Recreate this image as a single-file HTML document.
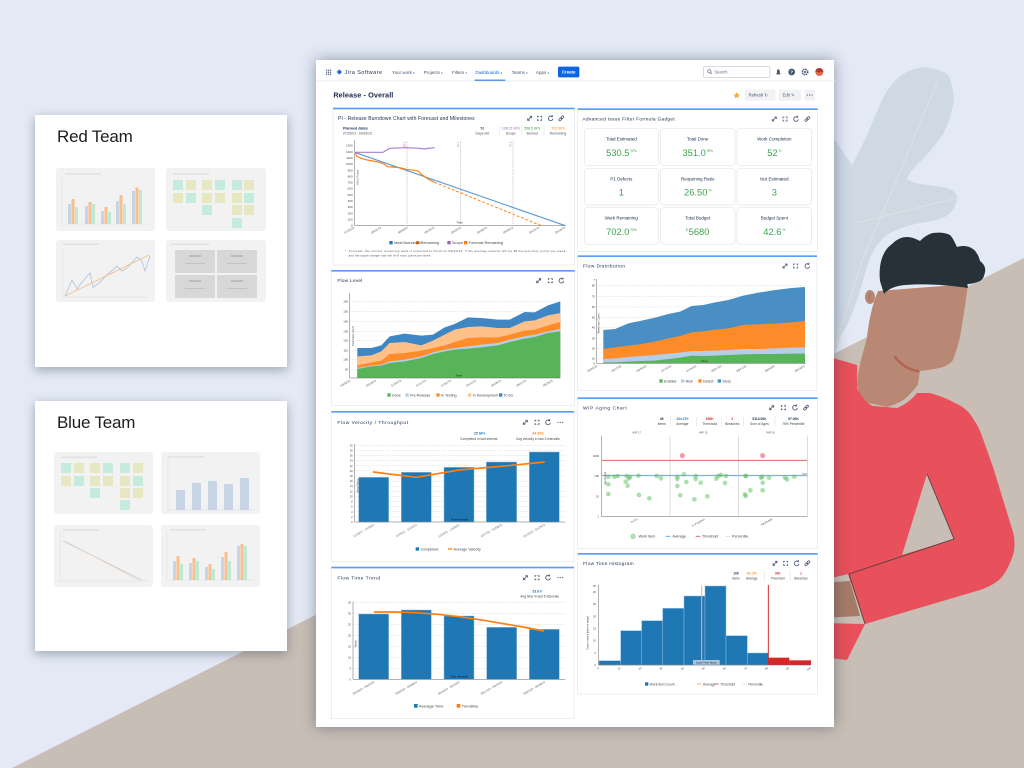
<!DOCTYPE html>
<html><head><meta charset="utf-8"><style>
*{margin:0;padding:0;box-sizing:border-box}
body{width:1024px;height:768px;overflow:hidden;position:relative;background:#e3eaf5;font-family:"Liberation Sans",sans-serif}
svg{position:absolute;overflow:visible}
svg text{font-family:"Liberation Sans","DejaVu Sans",sans-serif}
.card{position:absolute;background:#fff;box-shadow:0 3px 10px rgba(70,80,100,.45)}
.card h2{position:absolute;left:22px;font-weight:normal;font-size:17px;color:#1d1d1d;letter-spacing:-0.2px}
#dash{position:absolute;left:316px;top:60px;width:518px;height:667px;background:#fff;box-shadow:0 0 14px rgba(40,50,70,.45)}
</style></head><body>

<!-- background illustration -->
<svg style="left:0;top:0" width="1024" height="768" viewBox="0 0 1024 768">
<polygon points="0,774 1024,258 1024,768 0,768" fill="#c8beb5"/>
<path d="M820,150 L835,140 L852,165 C860,150 866,138 870,128 C878,110 882,98 887,91 C895,80 900,75 907,72 C915,68 925,66 930,68 C942,70 950,74 950,79 C954,92 955,100 952,110 C948,125 944,135 937,142 C930,152 922,160 917,165 C912,170 908,175 907,179 C912,182 915,183 920,184 C932,186 942,186 950,189 C957,193 958,196 957,200 C955,208 952,212 947,216 C938,220 930,222 920,223 C905,226 895,230 887,235 C878,243 873,250 870,258 C866,270 863,280 860,291 C856,303 853,312 850,319 C846,327 843,333 840,337 L833,360 L820,360 Z" fill="#cfd9e4"/>
<path d="M836,344 L863,258 L903,165 L937,82 M857,223 L957,198" stroke="#e2e2e0" stroke-width="0.9" fill="none"/>
<!-- face -->
<path d="M878,291 C872,305 869,320 867,337 C864,350 861,358 860,365 C858,372 857,380 857,386 C860,395 862,400 865,402 L887,407 C897,404 903,401 907,397 C912,392 916,388 918,384 L920,371 C928,370 936,369 943,367 C948,365 951,363 953,360 C956,352 958,345 960,337 C963,320 966,300 968,284 Z" fill="#b98875"/>
<ellipse cx="870" cy="297" rx="5" ry="7" fill="#b98875"/>
<path d="M871,293 C868,295 868,299 871,301" stroke="#9a6a58" stroke-width="0.8" fill="none"/>
<path d="M880,281 C879,272 880,264 882,258 C885,250 888,247 892,244 C897,239 902,237 907,237 C912,237 916,239 920,241 C925,236 929,234 933,233 C940,232 946,233 950,235 C953,238 955,243 957,247 C963,245 969,246 973,249 C977,252 979,257 980,261 C984,264 986,268 985,272 C984,277 983,279 980,281 C975,283 971,284 967,284 L968,288 C955,286 930,283 905,285 C895,286 888,289 884,294 Z" fill="#263238"/>
<path d="M895,357 C902,366 910,370 918,371" stroke="#b0654f" stroke-width="2.6" fill="none" stroke-linecap="round"/>
<!-- shirt -->
<path d="M820,356 L833,358 L857,365 L857,388 C862,398 868,404 873,406 L897,408 C907,404 913,398 917,393 L930,393 C940,396 948,399 953,402 C962,406 967,410 970,414 C977,424 980,430 983,439 L993,467 L1013,532 C1015,540 1015,548 1013,555 C1009,567 1004,575 1000,579 C993,585 986,588 980,590 L865,624 L848,574 L820,581 Z" fill="#e8505b"/>
<path d="M927,474 L954,539 L902,555 Z" fill="#c8beb5"/>
<path d="M927,474 L954,539 L849,574 L865,624" stroke="#4a3f3f" stroke-width="0.8" fill="none"/>
<path d="M820,583 L850,581 L860,616 L820,618 Z" fill="#a57b67"/>
<path d="M820,623 L865,624 L847,660 L820,657 Z" fill="#e8505b"/>
</svg>

<!-- left cards -->
<div class="card" style="left:35px;top:115px;width:252px;height:252px"><h2 style="top:12px">Red Team</h2></div>
<div class="card" style="left:35px;top:401px;width:252px;height:250px"><h2 style="top:12px">Blue Team</h2></div>
<svg style="left:0;top:0" width="1024" height="768" viewBox="0 0 1024 768">
<g fill="#f2f2f2"><rect x="56" y="168" width="99" height="63" rx="3"/><rect x="166" y="168" width="100" height="63" rx="3"/><rect x="56" y="240" width="99" height="62" rx="3"/><rect x="166" y="240" width="100" height="62" rx="3"/>
<rect x="54" y="452" width="99" height="62" rx="3"/><rect x="161" y="452" width="99" height="62" rx="3"/><rect x="54" y="525" width="99" height="62" rx="3"/><rect x="161" y="525" width="99" height="62" rx="3"/></g>
<g fill="#e2e2e2"><rect x="65" y="173" width="36" height="1.6"/><rect x="173" y="173" width="36" height="1.6"/><rect x="63" y="243.5" width="36" height="1.6"/><rect x="171" y="243.5" width="38" height="1.6"/>
<rect x="61" y="456.5" width="36" height="1.6"/><rect x="168" y="456" width="36" height="1.6"/><rect x="63" y="529" width="36" height="1.6"/><rect x="170" y="529" width="36" height="1.6"/></g>
<g stroke="#e4e4e4" stroke-width="0.7" fill="none"><path d="M62,177 V224 H148"/><path d="M63,249 V297 H149"/><path d="M168,458 V510 H255"/><path d="M60,531 V581 H148"/><path d="M167,531 V580 H254"/></g>
<!-- red TL bars -->
<g><g fill="#c6d4e4"><rect x="68" y="204" width="3" height="20"/><rect x="85" y="206" width="3" height="18"/><rect x="101" y="211" width="3" height="13"/><rect x="116" y="201" width="3" height="23"/><rect x="132" y="191" width="3" height="33"/></g>
<g fill="#f8bf8a"><rect x="71.5" y="199" width="3" height="25"/><rect x="88.5" y="202" width="3" height="22"/><rect x="104.5" y="207" width="3" height="17"/><rect x="119.5" y="195" width="3" height="29"/><rect x="135.5" y="187.5" width="3" height="36.5"/></g>
<g fill="#bde8d6"><rect x="75" y="207" width="3" height="17"/><rect x="92" y="204" width="3" height="20"/><rect x="108" y="212" width="3" height="12"/><rect x="123" y="204" width="3" height="20"/><rect x="139" y="190" width="3" height="34"/></g></g>
<!-- stickies -->
<g><g fill="#c4ebdc"><rect x="173" y="180" width="10" height="10"/><rect x="215" y="180" width="10" height="10"/><rect x="232" y="180" width="10" height="10"/><rect x="186" y="193" width="10" height="10"/><rect x="244" y="193" width="10" height="10"/><rect x="202" y="205" width="10" height="10"/><rect x="232" y="218" width="10" height="10"/>
<rect x="61" y="463" width="10" height="10"/><rect x="103" y="463" width="10" height="10"/><rect x="120" y="463" width="10" height="10"/><rect x="74" y="476" width="10" height="10"/><rect x="133" y="476" width="10" height="10"/><rect x="90" y="488" width="10" height="10"/><rect x="120" y="500" width="10" height="10"/></g>
<g fill="#e6e8c2"><rect x="186" y="180" width="10" height="10"/><rect x="202" y="180" width="10" height="10"/><rect x="244" y="180" width="10" height="10"/><rect x="173" y="193" width="10" height="10"/><rect x="202" y="193" width="10" height="10"/><rect x="215" y="193" width="10" height="10"/><rect x="232" y="193" width="10" height="10"/><rect x="232" y="205" width="10" height="10"/><rect x="244" y="205" width="10" height="10"/>
<rect x="74" y="463" width="10" height="10"/><rect x="90" y="463" width="10" height="10"/><rect x="133" y="463" width="10" height="10"/><rect x="61" y="476" width="10" height="10"/><rect x="90" y="476" width="10" height="10"/><rect x="103" y="476" width="10" height="10"/><rect x="120" y="476" width="10" height="10"/><rect x="120" y="488" width="10" height="10"/><rect x="133" y="488" width="10" height="10"/></g></g>
<!-- red BL line -->
<polyline points="65,296 72,280 77,289 82,282 90,273 93,287.5 100,282 107,275 117,266 122,271 127,268 137,257 142,261 145,271 150,256" fill="none" stroke="#b9c7da" stroke-width="0.9"/>
<line x1="65" y1="296" x2="149" y2="255" stroke="#f6bd85" stroke-width="0.9"/>
<!-- red BR boxes -->
<g fill="#d7d7d7"><rect x="175" y="250" width="40" height="23" rx="1"/><rect x="217" y="250" width="40" height="23" rx="1"/><rect x="175" y="275" width="40" height="23" rx="1"/><rect x="217" y="275" width="40" height="23" rx="1"/></g>
<g fill="#bdbdbd"><rect x="189" y="255" width="12" height="2"/><rect x="231" y="255" width="12" height="2"/><rect x="189" y="280" width="12" height="2"/><rect x="231" y="280" width="12" height="2"/><rect x="185" y="263" width="20" height="0.8"/><rect x="227" y="263" width="20" height="0.8"/><rect x="185" y="288" width="20" height="0.8"/><rect x="227" y="288" width="20" height="0.8"/></g>
<!-- blue TR bars -->
<g fill="#c7d5e4"><rect x="176" y="490" width="9" height="20"/><rect x="192" y="483" width="9" height="27"/><rect x="208" y="481" width="9" height="29"/><rect x="224" y="484" width="9" height="26"/><rect x="240" y="478" width="9" height="32"/></g>
<!-- blue BL -->
<line x1="63" y1="541" x2="142" y2="580" stroke="#c3cfe0" stroke-width="0.9"/><line x1="65" y1="541" x2="140" y2="581" stroke="#f3cfa8" stroke-width="0.7"/>
<!-- blue BR -->
<g fill="#c6d4e4"><rect x="173" y="561" width="3" height="19"/><rect x="189" y="563" width="3" height="17"/><rect x="205" y="567" width="3" height="13"/><rect x="221" y="557" width="3" height="23"/><rect x="237" y="546" width="3" height="34"/></g>
<g fill="#f8bf8a"><rect x="176.5" y="556" width="3" height="24"/><rect x="192.5" y="558" width="3" height="22"/><rect x="208.5" y="564" width="3" height="16"/><rect x="224.5" y="552" width="3" height="28"/><rect x="240.5" y="544" width="3" height="36"/></g>
<g fill="#bde8d6"><rect x="180" y="564" width="3" height="16"/><rect x="196" y="561" width="3" height="19"/><rect x="212" y="569" width="3" height="11"/><rect x="228" y="561" width="3" height="19"/><rect x="244" y="546" width="3" height="34"/></g>
</svg>

<div id="dash"></div>

<!-- defs + nav -->
<svg style="left:316px;top:60px" width="520" height="210" viewBox="0 0 1560 630">
<defs>
<g id="ie" fill="none" stroke="#505f79" stroke-width="2.6"><path d="M-6,6 L6,-6 M0,-6 H6 V0 M-6,0 V6 H0"/></g>
<g id="if" fill="none" stroke="#505f79" stroke-width="2.6"><path d="M-6,-2V-6H-2M2,-6H6V-2M6,2V6H2M-2,6H-6V2"/></g>
<g id="ir" fill="none" stroke="#505f79" stroke-width="2.6"><path d="M5,-5 A7,7 0 1 0 7,1 M5,-10 V-5 H0"/></g>
<g id="il" fill="none" stroke="#505f79" stroke-width="2.4"><g transform="rotate(-45)"><rect x="-9" y="-3" width="10" height="6" rx="3"/><rect x="-1" y="-3" width="10" height="6" rx="3"/></g></g>
<g id="im" fill="#505f79"><circle cx="-7" r="1.9"/><circle r="1.9"/><circle cx="7" r="1.9"/></g>
</defs>
<g fill="#44546f"><rect x="30" y="29" width="3.5" height="3.5"/><rect x="36" y="29" width="3.5" height="3.5"/><rect x="42" y="29" width="3.5" height="3.5"/><rect x="30" y="35" width="3.5" height="3.5"/><rect x="36" y="35" width="3.5" height="3.5"/><rect x="42" y="35" width="3.5" height="3.5"/><rect x="30" y="41" width="3.5" height="3.5"/><rect x="36" y="41" width="3.5" height="3.5"/><rect x="42" y="41" width="3.5" height="3.5"/></g>
<path d="M70,28 L78,36 L70,44 L62,36 Z" fill="#1868db"/>
<text x="86" y="42" font-size="17" fill="#253858" textLength="112">Jira Software</text>
<g font-size="13.5" fill="#44546f">
<text x="228" y="42">Your work <tspan font-size="9">▾</tspan></text>
<text x="323" y="42">Projects <tspan font-size="9">▾</tspan></text>
<text x="408" y="42">Filters <tspan font-size="9">▾</tspan></text>
<text x="478" y="42" fill="#0c66e4">Dashboards <tspan font-size="9">▾</tspan></text>
<text x="587" y="42">Teams <tspan font-size="9">▾</tspan></text>
<text x="660" y="42">Apps <tspan font-size="9">▾</tspan></text></g>
<rect x="476" y="59" width="92" height="4" fill="#0c66e4"/>
<rect x="726" y="20" width="64" height="32" rx="4" fill="#0c66e4"/>
<text x="758" y="41" font-size="13" fill="#fff" text-anchor="middle" font-weight="bold">Create</text>
<rect x="1162" y="20" width="200" height="32" rx="4" fill="#fff" stroke="#c1c7d0" stroke-width="2"/>
<circle cx="1180" cy="34" r="5" fill="none" stroke="#626f86" stroke-width="2"/><line x1="1184" y1="38" x2="1188" y2="42" stroke="#626f86" stroke-width="2"/>
<text x="1195" y="40" font-size="12.5" fill="#626f86">Search</text>
<path d="M1380,43 L1394,43 L1391,38 L1391,32 C1391,27 1383,27 1383,32 L1383,38 Z" fill="#44546f"/>
<circle cx="1427" cy="36" r="10" fill="#44546f"/><text x="1427" y="41" font-size="14" font-weight="bold" fill="#fff" text-anchor="middle">?</text>
<circle cx="1467" cy="36" r="8" fill="none" stroke="#44546f" stroke-width="5" stroke-dasharray="4,2.3"/><circle cx="1467" cy="36" r="3" fill="#44546f"/>
<circle cx="1510" cy="36" r="12" fill="#e8694a"/><path d="M1498,36 A12,12 0 0 1 1522,36 Z" fill="#c0392b"/><circle cx="1510" cy="33" r="5" fill="#8b4a3c"/>
<line x1="0" y1="63" x2="1560" y2="63" stroke="#e4e6ea" stroke-width="2"/>
<text x="52" y="113" font-size="22" fill="#172b4d" font-weight="bold" textLength="180">Release - Overall</text>
<path d="M1262,96 L1265,103 L1272,103 L1266.5,108 L1268.5,115 L1262,111 L1255.5,115 L1257.5,108 L1252,103 L1259,103 Z" fill="#f5a623"/>
<rect x="1287" y="88" width="91" height="34" rx="3" fill="#f1f2f4"/><text x="1298" y="110" font-size="12.5" fill="#44546f">Refresh ↻</text>
<rect x="1388" y="88" width="67" height="34" rx="3" fill="#f1f2f4"/><text x="1400" y="110" font-size="12.5" fill="#44546f">Edit ✎</text>
<rect x="1465" y="88" width="32" height="34" rx="3" fill="#f1f2f4"/><use href="#im" transform="translate(1481,105)"/>
</svg>

<!-- Burndown -->
<svg style="left:328px;top:105px" width="250" height="165" viewBox="0 0 750 495">
<rect x="15" y="10" width="725" height="470" fill="#fff" stroke="#e4e6ea" stroke-width="2"/>
<rect x="15" y="8" width="725" height="5" fill="#5b9ef6"/>
<text x="30" y="45" font-size="15" fill="#172b4d" textLength="410">PI - Release Burndown Chart with Forecast and Milestones</text>
<use href="#ie" transform="translate(605,40)"/><use href="#if" transform="translate(635,40)"/><use href="#ir" transform="translate(668,40)"/><use href="#il" transform="translate(700,40)"/>
<text x="45" y="73" font-size="11" font-weight="bold" fill="#172b4d">Planned dates</text>
<text x="45" y="88" font-size="10" fill="#555">07/25/23 - 09/26/23</text>
<g font-size="10.5" text-anchor="middle"><text x="463" y="73" fill="#172b4d">56</text><text x="463" y="88" fill="#555">Days left</text>
<text x="548" y="73" fill="#9467bd">1240.5 SPs</text><text x="548" y="88" fill="#555">Scope</text>
<text x="613" y="73" fill="#2ca02c">558.5 SPs</text><text x="613" y="88" fill="#555">Burned</text>
<text x="690" y="73" fill="#ff7f0e">702 SPs</text><text x="690" y="88" fill="#555">Remaining</text></g>
<g stroke="#ddd" stroke-width="1.5"><line x1="515" y1="62" x2="515" y2="92"/><line x1="580" y1="62" x2="580" y2="92"/><line x1="648" y1="62" x2="648" y2="92"/></g>
<g font-size="9" fill="#444" text-anchor="end"><text x="74" y="365">0</text><text x="74" y="346.5">100</text><text x="74" y="328">200</text><text x="74" y="309.6">300</text><text x="74" y="291.2">400</text><text x="74" y="272.7">500</text><text x="74" y="254.2">600</text><text x="74" y="235.8">700</text><text x="74" y="217.3">800</text><text x="74" y="198.9">900</text><text x="74" y="180.4">1000</text><text x="74" y="161.9">1100</text><text x="74" y="143.5">1200</text><text x="74" y="125">1300</text></g>
<path d="M80,105 V362 H712" stroke="#666" stroke-width="1.5" fill="none"/>
<g stroke="#999" stroke-width="1.5" stroke-dasharray="4,3"><line x1="237" y1="108" x2="237" y2="362"/><line x1="397" y1="108" x2="397" y2="362"/><line x1="555" y1="108" x2="555" y2="362"/></g>
<g font-size="8"><text transform="translate(233,125) rotate(-90)" fill="#d62728">PI 1</text><text transform="translate(393,125) rotate(-90)" fill="#888">PI 2</text><text transform="translate(551,125) rotate(-90)" fill="#888">PI 3</text></g>
<polyline points="80,142 712,362" fill="none" stroke="#5b9bd5" stroke-width="3.5"/>
<polyline points="80,142 165,142 185,130 235,128 275,130 290,132 300,130 320,128" fill="none" stroke="#a77fd1" stroke-width="3.5"/>
<line x1="320" y1="232" x2="640" y2="362" stroke="#ff7f0e" stroke-width="3" stroke-dasharray="8,6"/>
<polyline points="80,142 88,155 100,160 118,165 135,168 155,172 170,178 178,185 195,186 215,188 235,193 258,196 270,198 283,210 300,222 320,232" fill="none" stroke="#ff7f0e" stroke-width="3.5"/>
<text x="395" y="356" font-size="9" fill="#333" text-anchor="middle">Time</text>
<text transform="translate(92,240) rotate(-90)" font-size="8.5" fill="#555">Story Points</text>
<g font-size="8.5" fill="#555" text-anchor="end"><text transform="translate(80,370) rotate(-30)">07/25/23</text><text transform="translate(160,370) rotate(-30)">08/01/23</text><text transform="translate(240,370) rotate(-30)">08/08/23</text><text transform="translate(320,370) rotate(-30)">08/15/23</text><text transform="translate(400,370) rotate(-30)">08/22/23</text><text transform="translate(478,370) rotate(-30)">08/29/23</text><text transform="translate(556,370) rotate(-30)">09/05/23</text><text transform="translate(634,370) rotate(-30)">09/12/23</text><text transform="translate(712,370) rotate(-30)">09/19/23</text></g>
<rect x="184" y="408" width="10" height="10" fill="#1f77b4"/><rect x="264" y="408" width="10" height="10" fill="#ff7f0e"/><rect x="358" y="408" width="10" height="10" fill="#9467bd"/><rect x="408" y="408" width="10" height="10" fill="#ff7f0e"/>
<g font-size="11.5" fill="#444"><text x="198" y="417">Ideal Burndown</text><text x="278" y="417">Remaining</text><text x="372" y="417">Scope</text><text x="422" y="417">Forecast Remaining</text></g>
<text x="50" y="441" font-size="11" fill="#ff7f0e">*</text>
<text x="62" y="441" font-size="9" fill="#555" textLength="650">Forecast: the current remaining work is expected to finish on 09/22/23, if the average velocity will be 98 burned story points per week</text>
<text x="62" y="455" font-size="9" fill="#555" textLength="245">and the scope change rate will be 8 story points per week</text>
</svg>

<!-- Advanced gadget -->
<svg style="left:575px;top:100px" width="250" height="160" viewBox="0 0 750 480">
<rect x="8" y="27" width="720" height="428" fill="#fff" stroke="#e4e6ea" stroke-width="2"/>
<rect x="8" y="25" width="720" height="5" fill="#5b9ef6"/>
<text x="22" y="61" font-size="14.5" fill="#172b4d" textLength="277">Advanced Issue Filter Formula Gadget</text>
<use href="#ie" transform="translate(598,57)"/><use href="#if" transform="translate(630,57)"/><use href="#ir" transform="translate(663,57)"/><use href="#il" transform="translate(697,57)"/>
<g fill="#fff" stroke="#e2e4e8" stroke-width="2">
<rect x="28" y="85" width="222" height="112" rx="10"/><rect x="257" y="85" width="223" height="112" rx="10"/><rect x="486" y="85" width="224" height="112" rx="10"/>
<rect x="28" y="205" width="222" height="110" rx="10"/><rect x="257" y="205" width="223" height="110" rx="10"/><rect x="486" y="205" width="224" height="110" rx="10"/>
<rect x="28" y="323" width="222" height="110" rx="10"/><rect x="257" y="323" width="223" height="110" rx="10"/><rect x="486" y="323" width="224" height="110" rx="10"/></g>
<g font-size="13.5" fill="#172b4d" text-anchor="middle">
<text x="139" y="122">Total Estimated</text><text x="368" y="122">Total Done</text><text x="598" y="122">Work Completion</text>
<text x="139" y="241">P1 Defects</text><text x="368" y="241">Reopening Ratio</text><text x="598" y="241">Not Estimated</text>
<text x="139" y="359">Work Remaining</text><text x="368" y="359">Total Budget</text><text x="598" y="359">Budget Spent</text></g>
<g font-size="28" fill="#3ba34f" text-anchor="middle">
<text x="139" y="168">530.5<tspan font-size="10" dy="-12"> SPs</tspan></text>
<text x="368" y="168">351.0<tspan font-size="10" dy="-12"> SPs</tspan></text>
<text x="598" y="168">52<tspan font-size="10" dy="-12"> %</tspan></text>
<text x="139" y="287">1</text>
<text x="368" y="287">26.50<tspan font-size="10" dy="-12"> %</tspan></text>
<text x="598" y="287">3</text>
<text x="139" y="405">702.0<tspan font-size="10" dy="-12"> SPs</tspan></text>
<text x="368" y="405"><tspan font-size="10" dy="-12">$ </tspan><tspan dy="12">5680</tspan></text>
<text x="598" y="405">42.6<tspan font-size="10" dy="-12"> %</tspan></text></g>
</svg>

<!-- Flow Level -->
<svg style="left:328px;top:268px" width="250" height="145" viewBox="0 0 750 435">
<rect x="10" y="9" width="730" height="403" fill="#fff" stroke="#e4e6ea" stroke-width="2"/>
<rect x="10" y="6" width="730" height="5" fill="#5b9ef6"/>
<text x="28" y="42" font-size="14.5" fill="#172b4d" textLength="75">Flow Level</text>
<use href="#ie" transform="translate(632,38)"/><use href="#if" transform="translate(667,38)"/><use href="#ir" transform="translate(700,38)"/>
<g stroke="#ccc" stroke-width="1.2" stroke-dasharray="4,3"><line x1="65" y1="101" x2="697" y2="101"/><line x1="65" y1="130" x2="697" y2="130"/><line x1="65" y1="160" x2="697" y2="160"/><line x1="65" y1="190" x2="697" y2="190"/><line x1="65" y1="218" x2="697" y2="218"/><line x1="65" y1="247" x2="697" y2="247"/><line x1="65" y1="275" x2="697" y2="275"/><line x1="65" y1="304" x2="697" y2="304"/></g>
<g font-size="8.5" fill="#444" text-anchor="end"><text x="60" y="104">160</text><text x="60" y="133">150</text><text x="60" y="163">140</text><text x="60" y="193">130</text><text x="60" y="221">120</text><text x="60" y="250">110</text><text x="60" y="278">100</text><text x="60" y="307">90</text></g>
<polygon points="88,330 88,240 130,240 160,232 185,205 230,197 280,203 315,200 350,178 380,168 420,148 460,150 510,155 545,155 590,132 620,133 660,112 697,100 697,330" fill="#3f87c4"/>
<polygon points="88,330 88,265 130,262 160,250 185,225 230,222 280,232 315,218 350,200 380,185 420,177 460,175 510,180 545,180 590,160 620,157 660,142 697,135 697,330" fill="#ffc08a"/>
<polygon points="88,330 88,292 130,283 160,278 185,258 230,255 280,248 315,240 350,232 380,222 420,210 460,208 510,208 545,200 590,188 620,185 660,172 697,162 697,330" fill="#ff8c28"/>
<polygon points="88,330 88,300 130,293 160,290 185,280 230,275 280,265 315,253 350,245 380,240 420,235 460,230 510,225 545,215 590,205 620,200 660,190 697,183 697,330" fill="#b5cde8"/>
<polygon points="88,330 88,303 130,295 160,293 185,285 230,280 280,270 315,258 350,250 380,245 420,242 460,238 510,232 545,222 590,212 620,207 660,195 697,190 697,330" fill="#58b459"/>
<path d="M65,75 V330 H697" stroke="#666" stroke-width="1.5" fill="none"/>
<text x="392" y="325" font-size="9" fill="#222" text-anchor="middle">Time</text>
<text transform="translate(78,235) rotate(-90)" font-size="8" fill="#444">Total Story Count</text>
<g font-size="8.5" fill="#555" text-anchor="end"><text transform="translate(68,340) rotate(-30)">06/05/23</text><text transform="translate(145,340) rotate(-30)">06/19/23</text><text transform="translate(220,340) rotate(-30)">07/03/23</text><text transform="translate(295,340) rotate(-30)">07/17/23</text><text transform="translate(370,340) rotate(-30)">07/31/23</text><text transform="translate(445,340) rotate(-30)">08/14/23</text><text transform="translate(520,340) rotate(-30)">08/28/23</text><text transform="translate(595,340) rotate(-30)">09/11/23</text><text transform="translate(675,340) rotate(-30)">09/25/23</text></g>
<rect x="178" y="376" width="10" height="10" fill="#58b459"/><rect x="232" y="376" width="10" height="10" fill="#b5cde8"/><rect x="325" y="376" width="10" height="10" fill="#ff8c28"/><rect x="420" y="376" width="10" height="10" fill="#ffc08a"/><rect x="513" y="376" width="10" height="10" fill="#3f87c4"/>
<g font-size="11" fill="#444"><text x="192" y="385">Done</text><text x="246" y="385">Pre-Release</text><text x="339" y="385">In Testing</text><text x="434" y="385">In Development</text><text x="527" y="385">To Do</text></g>
</svg>

<!-- Flow Distribution -->
<svg style="left:575px;top:255px" width="250" height="140" viewBox="0 0 750 420">
<rect x="8" y="4" width="718" height="403" fill="#fff" stroke="#e4e6ea" stroke-width="2"/>
<rect x="8" y="1" width="718" height="5" fill="#5b9ef6"/>
<text x="24" y="38" font-size="14.5" fill="#172b4d" textLength="126">Flow Distribution</text>
<use href="#ie" transform="translate(630,33)"/><use href="#if" transform="translate(662,33)"/><use href="#ir" transform="translate(697,33)"/>
<g stroke="#ccc" stroke-width="1.2" stroke-dasharray="4,3"><line x1="65" y1="91" x2="693" y2="91"/><line x1="65" y1="124" x2="693" y2="124"/><line x1="65" y1="156" x2="693" y2="156"/><line x1="65" y1="187" x2="693" y2="187"/><line x1="65" y1="218" x2="693" y2="218"/><line x1="65" y1="250" x2="693" y2="250"/><line x1="65" y1="281" x2="693" y2="281"/><line x1="65" y1="310" x2="693" y2="310"/></g>
<g font-size="8.5" fill="#444" text-anchor="end"><text x="60" y="78">?</text><text x="60" y="94">80</text><text x="60" y="127">70</text><text x="60" y="159">60</text><text x="60" y="190">50</text><text x="60" y="221">40</text><text x="60" y="253">30</text><text x="60" y="284">20</text><text x="60" y="313">10</text><text x="60" y="328">0</text></g>
<polygon points="85,325 85,225 120,222 160,205 200,197 240,188 280,177 315,170 350,153 385,150 420,142 460,135 505,122 550,113 600,105 650,99 690,96 690,325" fill="#4a8fc4"/>
<polygon points="85,325 85,282 120,277 160,272 200,267 240,260 280,250 315,243 350,232 385,229 420,224 460,220 505,210 550,208 600,206 650,202 690,198 690,325" fill="#ff8c28"/>
<polygon points="85,325 85,312 120,310 160,306 200,303 240,300 280,296 315,293 350,288 385,288 420,287 460,285 505,282 550,282 600,280 650,278 690,277 690,325" fill="#b5cde8"/>
<polygon points="85,325 85,322 120,322 160,320 200,318 240,317 280,312 315,308 350,302 385,303 420,302 460,300 505,298 550,297 600,297 650,296 690,296 690,325" fill="#58b459"/>
<path d="M65,72 V325 H693" stroke="#666" stroke-width="1.5" fill="none"/>
<text x="388" y="321" font-size="9" fill="#222" text-anchor="middle">Time</text>
<text transform="translate(74,235) rotate(-90)" font-size="8" fill="#444">Work Item Count</text>
<g font-size="8.5" fill="#555" text-anchor="end"><text transform="translate(68,335) rotate(-30)">05/29/23</text><text transform="translate(140,335) rotate(-30)">06/12/23</text><text transform="translate(215,335) rotate(-30)">06/26/23</text><text transform="translate(290,335) rotate(-30)">07/10/23</text><text transform="translate(365,335) rotate(-30)">07/24/23</text><text transform="translate(440,335) rotate(-30)">08/07/23</text><text transform="translate(515,335) rotate(-30)">08/21/23</text><text transform="translate(600,335) rotate(-30)">09/04/23</text><text transform="translate(690,335) rotate(-30)">09/18/23</text></g>
<rect x="253" y="373" width="10" height="10" fill="#58b459"/><rect x="318" y="373" width="10" height="10" fill="#b5cde8"/><rect x="370" y="373" width="10" height="10" fill="#ff8c28"/><rect x="428" y="373" width="10" height="10" fill="#4a8fc4"/>
<g font-size="11" fill="#444"><text x="267" y="382">Enabler</text><text x="332" y="382">Risk</text><text x="384" y="382">Defect</text><text x="442" y="382">Story</text></g>
</svg>

<!-- Flow Velocity -->
<svg style="left:328px;top:408px" width="250" height="155" viewBox="0 0 750 465">
<rect x="10" y="12" width="728" height="448" fill="#fff" stroke="#e4e6ea" stroke-width="2"/>
<rect x="10" y="9" width="728" height="5" fill="#5b9ef6"/>
<text x="28" y="48" font-size="14.5" fill="#172b4d" textLength="212">Flow Velocity / Throughput</text>
<use href="#ie" transform="translate(592,43)"/><use href="#if" transform="translate(627,43)"/><use href="#ir" transform="translate(660,43)"/><use href="#im" transform="translate(697,43)"/>
<g text-anchor="middle"><text x="455" y="80" font-size="10.5" fill="#1f77b4" font-weight="bold">25 SPs</text><text x="452" y="96" font-size="10" fill="#444">Completed in last interval</text>
<text x="630" y="80" font-size="10.5" fill="#ff7f0e" font-weight="bold">24 SPs</text><text x="630" y="96" font-size="10" fill="#444">Avg velocity in last 3 intervals</text></g>
<g stroke="#ccc" stroke-width="1.2" stroke-dasharray="4,3"><line x1="80" y1="326.7" x2="712" y2="326.7"/><line x1="80" y1="311.3" x2="712" y2="311.3"/><line x1="80" y1="296" x2="712" y2="296"/><line x1="80" y1="280.7" x2="712" y2="280.7"/><line x1="80" y1="265.3" x2="712" y2="265.3"/><line x1="80" y1="250" x2="712" y2="250"/><line x1="80" y1="234.7" x2="712" y2="234.7"/><line x1="80" y1="219.3" x2="712" y2="219.3"/><line x1="80" y1="204" x2="712" y2="204"/><line x1="80" y1="188.7" x2="712" y2="188.7"/><line x1="80" y1="173.3" x2="712" y2="173.3"/><line x1="80" y1="158" x2="712" y2="158"/><line x1="80" y1="142.7" x2="712" y2="142.7"/><line x1="80" y1="127.3" x2="712" y2="127.3"/><line x1="80" y1="112" x2="712" y2="112"/></g>
<g font-size="8" fill="#444" text-anchor="end"><text x="74" y="345">0</text><text x="74" y="329.7">2</text><text x="74" y="314.3">4</text><text x="74" y="299">6</text><text x="74" y="283.7">8</text><text x="74" y="268.3">10</text><text x="74" y="253">12</text><text x="74" y="237.7">14</text><text x="74" y="222.3">16</text><text x="74" y="207">18</text><text x="74" y="191.7">20</text><text x="74" y="176.3">22</text><text x="74" y="161">24</text><text x="74" y="145.7">26</text><text x="74" y="130.3">28</text><text x="74" y="115">30</text></g>
<g fill="#1f77b4" stroke="#8fbde0" stroke-width="1.5"><rect x="92" y="208" width="90" height="134"/><rect x="220" y="193" width="90" height="149"/><rect x="348" y="178" width="90" height="164"/><rect x="475" y="162" width="91" height="180"/><rect x="604" y="132" width="90" height="210"/></g>
<path d="M80,108 V342 H712" stroke="#666" stroke-width="1.5" fill="none"/>
<polyline points="135,192 265,208 393,186 520,175 650,162" fill="none" stroke="#ff7f0e" stroke-width="5"/>
<text x="395" y="337" font-size="8.5" fill="#111" text-anchor="middle">Time intervals</text>
<text transform="translate(91,255) rotate(-90)" font-size="8" fill="#444">Story Points</text>
<g font-size="8.5" fill="#555" text-anchor="end"><text transform="translate(140,352) rotate(-30)">11/15/21 - 11/28/21</text><text transform="translate(268,352) rotate(-30)">11/29/21 - 12/12/21</text><text transform="translate(396,352) rotate(-30)">12/13/21 - 12/26/21</text><text transform="translate(523,352) rotate(-30)">12/27/21 - 01/09/22</text><text transform="translate(652,352) rotate(-30)">01/10/22 - 01/23/22</text></g>
<rect x="263" y="418" width="10" height="10" fill="#1f77b4"/><rect x="360" y="421" width="13" height="4" fill="#ff7f0e"/>
<g font-size="11" fill="#444"><text x="278" y="427">Completed</text><text x="377" y="427">Average Velocity</text></g>
</svg>

<!-- Flow Time Trend -->
<svg style="left:328px;top:560px" width="250" height="170" viewBox="0 0 750 510">
<rect x="10" y="24" width="728" height="452" fill="#fff" stroke="#e4e6ea" stroke-width="2"/>
<rect x="10" y="20" width="728" height="5" fill="#5b9ef6"/>
<text x="28" y="59" font-size="14.5" fill="#172b4d" textLength="128">Flow Time Trend</text>
<use href="#ie" transform="translate(592,53)"/><use href="#if" transform="translate(627,53)"/><use href="#ir" transform="translate(660,53)"/><use href="#im" transform="translate(697,53)"/>
<g text-anchor="middle"><text x="628" y="98" font-size="10.5" fill="#1f77b4" font-weight="bold">23.6 h</text><text x="635" y="113" font-size="10" fill="#444">Avg time in last 5 intervals</text></g>
<g stroke="#ccc" stroke-width="1.2" stroke-dasharray="4,3"><line x1="75" y1="325.1" x2="712" y2="325.1"/><line x1="75" y1="292.3" x2="712" y2="292.3"/><line x1="75" y1="259.4" x2="712" y2="259.4"/><line x1="75" y1="226.6" x2="712" y2="226.6"/><line x1="75" y1="193.7" x2="712" y2="193.7"/><line x1="75" y1="160.9" x2="712" y2="160.9"/><line x1="75" y1="128" x2="712" y2="128"/></g>
<g font-size="8" fill="#444" text-anchor="end"><text x="69" y="361">0</text><text x="69" y="328">5</text><text x="69" y="295">10</text><text x="69" y="262">15</text><text x="69" y="229.6">20</text><text x="69" y="196.7">25</text><text x="69" y="163.9">30</text><text x="69" y="131">35</text></g>
<g fill="#1f77b4" stroke="#8fbde0" stroke-width="1.5"><rect x="92" y="162" width="90" height="196"/><rect x="220" y="150" width="90" height="208"/><rect x="348" y="168" width="90" height="190"/><rect x="476" y="202" width="90" height="156"/><rect x="604" y="208" width="90" height="150"/></g>
<path d="M75,125 V358 H712" stroke="#666" stroke-width="1.5" fill="none"/>
<polyline points="138,156 200,156 265,158 330,163 393,170 455,179 520,190 585,201 648,213" fill="none" stroke="#ff7f0e" stroke-width="5"/>
<text x="393" y="353" font-size="8.5" fill="#111" text-anchor="middle">Time Intervals</text>
<text transform="translate(86,262) rotate(-90)" font-size="8" fill="#444">Hours</text>
<g font-size="8.5" fill="#555" text-anchor="end"><text transform="translate(140,368) rotate(-30)">04/26/22 - 05/02/22</text><text transform="translate(268,368) rotate(-30)">05/03/22 - 05/09/22</text><text transform="translate(396,368) rotate(-30)">05/10/22 - 05/16/22</text><text transform="translate(524,368) rotate(-30)">05/17/22 - 05/23/22</text><text transform="translate(652,368) rotate(-30)">05/24/22 - 05/30/22</text></g>
<rect x="258" y="432" width="11" height="11" fill="#1f77b4"/><rect x="386" y="432" width="11" height="11" fill="#ff7f0e"/>
<g font-size="12" fill="#444"><text x="273" y="442">Average Time</text><text x="401" y="442">Trendline</text></g>
</svg>

<!-- WIP Aging -->
<svg style="left:575px;top:395px" width="250" height="160" viewBox="0 0 750 480">
<rect x="8" y="10" width="720" height="450" fill="#fff" stroke="#e4e6ea" stroke-width="2"/>
<rect x="8" y="7" width="720" height="5" fill="#5b9ef6"/>
<text x="24" y="43" font-size="14.5" fill="#172b4d" textLength="131">WIP Aging Chart</text>
<use href="#ie" transform="translate(590,38)"/><use href="#if" transform="translate(625,38)"/><use href="#ir" transform="translate(660,38)"/><use href="#il" transform="translate(693,38)"/>
<g text-anchor="middle" font-size="10"><text x="260" y="75" fill="#172b4d" font-weight="bold">49</text><text x="260" y="90" fill="#444">Items</text>
<text x="322" y="75" fill="#1f77b4" font-weight="bold">104.27h</text><text x="322" y="90" fill="#444">Average</text>
<text x="404" y="75" fill="#d62728" font-weight="bold">600h</text><text x="404" y="90" fill="#444">Threshold</text>
<text x="472" y="75" fill="#d62728" font-weight="bold">2</text><text x="472" y="90" fill="#444">Breaches</text>
<text x="553" y="75" fill="#172b4d" font-weight="bold">5114.00h</text><text x="553" y="90" fill="#444">Sum of Ages</text>
<text x="655" y="75" fill="#172b4d" font-weight="bold">97.00h</text><text x="655" y="90" fill="#444">75% Percentile</text></g>
<g stroke="#ddd" stroke-width="1.5"><line x1="287" y1="64" x2="287" y2="94"/><line x1="365" y1="64" x2="365" y2="94"/><line x1="440" y1="64" x2="440" y2="94"/><line x1="505" y1="64" x2="505" y2="94"/><line x1="600" y1="64" x2="600" y2="94"/></g>
<g font-size="8" fill="#555" text-anchor="middle"><text x="185" y="116">WIP 17</text><text x="385" y="116">WIP 15</text><text x="587" y="116">WIP 16</text></g>
<g stroke="#bbb" stroke-width="1.5"><line x1="285" y1="122" x2="285" y2="365"/><line x1="490" y1="122" x2="490" y2="365"/><line x1="697" y1="122" x2="697" y2="365"/></g>
<path d="M80,122 V365 H697" stroke="#666" stroke-width="1.5" fill="none"/>
<g font-size="8.5" fill="#444" text-anchor="end"><text x="72" y="186">1000</text><text x="72" y="246">100</text><text x="72" y="308">10</text><text x="72" y="368">1</text></g>
<line x1="80" y1="196" x2="697" y2="196" stroke="#e06666" stroke-width="3"/>
<line x1="80" y1="240" x2="697" y2="240" stroke="#aaa" stroke-width="1.5" stroke-dasharray="3,3"/>
<line x1="80" y1="242" x2="697" y2="242" stroke="#6fa8dc" stroke-width="3"/>
<text x="680" y="240" font-size="8.5" fill="#666">75%</text>
<text transform="translate(93,270) rotate(-90)" font-size="8" fill="#444">Age (Days)</text>
<g fill="#5cbd5c" fill-opacity="0.5">
<circle cx="100" cy="245" r="7"/><circle cx="100" cy="268" r="7"/><circle cx="100" cy="297" r="7"/><circle cx="118" cy="245" r="7"/><circle cx="128" cy="243" r="7"/><circle cx="155" cy="243" r="7"/><circle cx="152" cy="260" r="7"/><circle cx="158" cy="272" r="7"/><circle cx="162" cy="250" r="7"/><circle cx="165" cy="246" r="7"/><circle cx="190" cy="242" r="7"/><circle cx="192" cy="300" r="7"/><circle cx="223" cy="310" r="7"/><circle cx="245" cy="243" r="7"/><circle cx="258" cy="250" r="7"/><circle cx="307" cy="245" r="7"/><circle cx="307" cy="252" r="7"/><circle cx="307" cy="273" r="7"/><circle cx="316" cy="301" r="7"/><circle cx="327" cy="238" r="7"/><circle cx="334" cy="261" r="7"/><circle cx="362" cy="243" r="7"/><circle cx="362" cy="252" r="7"/><circle cx="377" cy="263" r="7"/><circle cx="397" cy="304" r="7"/><circle cx="358" cy="313" r="7"/><circle cx="424" cy="251" r="7"/><circle cx="430" cy="243" r="7"/><circle cx="438" cy="240" r="7"/><circle cx="450" cy="264" r="7"/><circle cx="453" cy="243" r="7"/><circle cx="512" cy="242" r="7"/><circle cx="512" cy="244" r="7"/><circle cx="510" cy="298" r="7"/><circle cx="512" cy="303" r="7"/><circle cx="526" cy="286" r="7"/><circle cx="558" cy="248" r="7"/><circle cx="562" cy="245" r="7"/><circle cx="563" cy="263" r="7"/><circle cx="563" cy="286" r="7"/><circle cx="582" cy="248" r="7"/><circle cx="630" cy="248" r="7"/><circle cx="636" cy="253" r="7"/><circle cx="658" cy="245" r="7"/></g>
<g fill="#f09a9a"><circle cx="322" cy="182" r="7.5"/><circle cx="563" cy="182" r="7.5"/></g>
<g font-size="8.5" fill="#555" text-anchor="end"><text transform="translate(188,374) rotate(-30)">To Do</text><text transform="translate(390,374) rotate(-30)">In Progress</text><text transform="translate(592,374) rotate(-30)">Reviewed</text></g>
<circle cx="174" cy="424" r="8" fill="#5cbd5c" fill-opacity="0.5"/>
<line x1="272" y1="424" x2="286" y2="424" stroke="#6fa8dc" stroke-width="3"/><line x1="362" y1="424" x2="376" y2="424" stroke="#e06666" stroke-width="3"/><line x1="452" y1="424" x2="466" y2="424" stroke="#aaa" stroke-width="1.5" stroke-dasharray="3,2"/>
<g font-size="11" fill="#444"><text x="191" y="428">Work Item</text><text x="292" y="428">Average</text><text x="381" y="428">Threshold</text><text x="471" y="428">Percentile</text></g>
</svg>

<!-- Histogram -->
<svg style="left:575px;top:550px" width="250" height="150" viewBox="0 0 750 450">
<rect x="8" y="12" width="720" height="420" fill="#fff" stroke="#e4e6ea" stroke-width="2"/>
<rect x="8" y="9" width="720" height="5" fill="#5b9ef6"/>
<text x="24" y="45" font-size="14.5" fill="#172b4d" textLength="152">Flow Time Histogram</text>
<use href="#ie" transform="translate(600,40)"/><use href="#if" transform="translate(632,40)"/><use href="#ir" transform="translate(665,40)"/><use href="#il" transform="translate(697,40)"/>
<g text-anchor="middle" font-size="9.5"><text x="483" y="74" fill="#172b4d" font-weight="bold">109</text><text x="483" y="89" fill="#444">Items</text>
<text x="530" y="74" fill="#ff9f40" font-weight="bold">46.15h</text><text x="530" y="89" fill="#444">Average</text>
<text x="608" y="74" fill="#d62728" font-weight="bold">90h</text><text x="608" y="89" fill="#444">Threshold</text>
<text x="678" y="74" fill="#d62728" font-weight="bold">1</text><text x="678" y="89" fill="#444">Breaches</text></g>
<g stroke="#ddd" stroke-width="1.5"><line x1="568" y1="64" x2="568" y2="93"/><line x1="645" y1="64" x2="645" y2="93"/></g>
<g font-size="8" fill="#444" text-anchor="end"><text x="63" y="348">0</text><text x="63" y="312">5</text><text x="63" y="275">10</text><text x="63" y="239">15</text><text x="63" y="202">20</text><text x="63" y="165">25</text><text x="63" y="129">30</text><text x="63" y="111">35</text></g>
<g fill="#1f77b4" stroke="#8fbde0" stroke-width="1.5"><rect x="72" y="332" width="65" height="13"/><rect x="137" y="242" width="63" height="103"/><rect x="200" y="212" width="63" height="133"/><rect x="263" y="175" width="64" height="170"/><rect x="327" y="138" width="63" height="207"/><rect x="390" y="108" width="63" height="237"/><rect x="453" y="257" width="64" height="88"/><rect x="517" y="309" width="63" height="36"/></g>
<g fill="#d62728"><rect x="580" y="323" width="63" height="22"/><rect x="643" y="331" width="65" height="14"/></g>
<line x1="380" y1="107" x2="380" y2="345" stroke="#ffb068" stroke-width="3"/>
<line x1="580" y1="105" x2="580" y2="345" stroke="#d62728" stroke-width="3"/>
<path d="M70,105 V345 H708" stroke="#666" stroke-width="1.5" fill="none"/>
<rect x="354" y="330" width="80" height="14" fill="#a9c4dc"/><text x="394" y="340" font-size="8" fill="#222" text-anchor="middle">Cycle Time Hours</text>
<text transform="translate(40,300) rotate(-90)" font-size="7.5" fill="#444">Count of items (items in range)</text>
<g font-size="8" fill="#555" text-anchor="end"><text transform="translate(72,356) rotate(-30)">0</text><text transform="translate(137,356) rotate(-30)">10</text><text transform="translate(200,356) rotate(-30)">20</text><text transform="translate(263,356) rotate(-30)">30</text><text transform="translate(327,356) rotate(-30)">40</text><text transform="translate(390,356) rotate(-30)">50</text><text transform="translate(453,356) rotate(-30)">60</text><text transform="translate(517,356) rotate(-30)">70</text><text transform="translate(580,356) rotate(-30)">80</text><text transform="translate(643,356) rotate(-30)">90</text><text transform="translate(708,356) rotate(-30)">100</text></g>
<rect x="210" y="397" width="10" height="10" fill="#1f77b4"/>
<line x1="366" y1="402" x2="379" y2="402" stroke="#ffb068" stroke-width="3"/><line x1="418" y1="402" x2="431" y2="402" stroke="#e06666" stroke-width="3"/><line x1="502" y1="402" x2="515" y2="402" stroke="#aaa" stroke-width="1.5" stroke-dasharray="3,2"/>
<g font-size="10" fill="#444"><text x="224" y="406">Work Item Count</text><text x="384" y="406">Average</text><text x="436" y="406">Threshold</text><text x="520" y="406">Percentile</text></g>
</svg>

</body></html>
